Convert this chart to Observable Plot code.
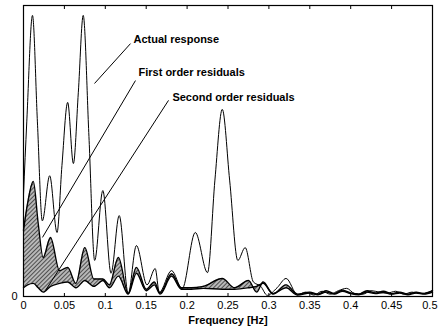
<!DOCTYPE html>
<html>
<head>
<meta charset="utf-8">
<script src="https://cdn.jsdelivr.net/npm/d3@7"></script>
<script src="https://cdn.jsdelivr.net/npm/@observablehq/plot@0.6"></script>
<style>
  body { margin: 0; background: #fff; }
  #chart svg { display: block; font-family: "Liberation Sans", Arial, sans-serif; }
</style>
</head>
<body>
<div id="chart"></div>
<script>
// ---- data ----
const actualFreq = [0, 0.004, 0.011, 0.017, 0.023, 0.032, 0.041, 0.047, 0.054, 0.061, 0.067, 0.073, 0.080, 0.087, 0.097, 0.107, 0.117, 0.128, 0.138, 0.151, 0.161, 0.166, 0.181, 0.194, 0.210, 0.225, 0.234, 0.243, 0.252, 0.262, 0.271, 0.281, 0.290, 0.298, 0.310, 0.321, 0.335, 0.345, 0.355, 0.365, 0.375, 0.385, 0.395, 0.405, 0.415, 0.425, 0.435, 0.445, 0.455, 0.465, 0.475, 0.485, 0.495, 0.500];
const actualVal  = [0.35, 0.60, 0.966, 0.60, 0.26, 0.415, 0.22, 0.45, 0.667, 0.457, 0.70, 0.966, 0.55, 0.124, 0.364, 0.08, 0.278, 0.01, 0.175, 0.04, 0.096, 0.014, 0.089, 0.027, 0.22, 0.082, 0.40, 0.643, 0.40, 0.124, 0.168, 0.05, 0.035, 0.004, 0.03, 0.062, 0.006, 0.015, 0.005, 0.018, 0.008, 0.02, 0.028, 0.01, 0.008, 0.02, 0.015, 0.012, 0.018, 0.008, 0.015, 0.01, 0.015, 0.02];

const resFreq   = [0, 0.005, 0.012, 0.018, 0.024, 0.033, 0.044, 0.054, 0.064, 0.075, 0.086, 0.097, 0.105, 0.116, 0.128, 0.138, 0.150, 0.160, 0.167, 0.181, 0.193, 0.205, 0.220, 0.243, 0.258, 0.275, 0.285, 0.293, 0.305, 0.321, 0.335, 0.350, 0.360, 0.370, 0.380, 0.390, 0.400, 0.410, 0.420, 0.430, 0.440, 0.450, 0.460, 0.470, 0.480, 0.490, 0.500];
const firstVal  = [0.227, 0.32, 0.395, 0.25, 0.134, 0.203, 0.089, 0.10, 0.045, 0.168, 0.06, 0.06, 0.04, 0.134, 0.01, 0.10, 0.025, 0.05, 0.012, 0.078, 0.03, 0.03, 0.035, 0.062, 0.03, 0.055, 0.015, 0.05, 0.008, 0.04, 0.008, 0.015, 0.008, 0.02, 0.01, 0.022, 0.012, 0.008, 0.02, 0.012, 0.018, 0.01, 0.015, 0.008, 0.015, 0.01, 0.02];
const secondVal = [0.03, 0.04, 0.045, 0.03, 0.015, 0.035, 0.045, 0.05, 0.03, 0.055, 0.035, 0.055, 0.03, 0.07, 0.008, 0.08, 0.02, 0.04, 0.008, 0.07, 0.025, 0.025, 0.028, 0.025, 0.025, 0.03, 0.035, 0.045, 0.01, 0.03, 0.005, 0.012, 0.006, 0.015, 0.008, 0.018, 0.01, 0.006, 0.015, 0.01, 0.014, 0.008, 0.012, 0.006, 0.012, 0.008, 0.015];

const xTicks      = [0, 0.05, 0.1, 0.15, 0.2, 0.25, 0.3, 0.35, 0.4, 0.45, 0.5];
const xTickLabels = ["0", "0.05", "0.1", "0.15", "0.2", "0.25", "0.3", "0.35", "0.4", "0.45", "0.5"];
const yTicks      = [0];
const yTickLabels = ["0"];
const xLabel = ["Frequency [Hz]"];

const noteText = ["Actual response", "First order residuals", "Second order residuals"];
const noteX    = [0.1345, 0.1406, 0.182];
const noteY    = [0.883, 0.770, 0.684];
const leadX1   = [0.1308, 0.1369, 0.1773];
const leadY1   = [0.869, 0.742, 0.674];
const leadX2   = [0.0868, 0.0232, 0.0269];
const leadY2   = [0.732, 0.203, 0.021];

// ---- tables built from the arrays ----
const actual = actualFreq.map((f, i) => ({f, v: actualVal[i]}));
const resid  = resFreq.map((f, i) => ({f, a: firstVal[i], b: secondVal[i]}));
const notes  = noteText.map((t, i) => ({t, x: noteX[i], y: noteY[i], x1: leadX1[i], y1: leadY1[i], x2: leadX2[i], y2: leadY2[i]}));
const fmtX = (d) => xTickLabels[xTicks.indexOf(d)] ?? "";

const chart = Plot.plot({
  width: 438,
  height: 330,
  marginLeft: 23,
  marginRight: 6,
  marginTop: 5,
  marginBottom: 34,
  style: {fontFamily: "'Liberation Sans', Arial, sans-serif", fontSize: "11px", color: "#000", background: "#fff"},
  x: {domain: [0, 0.5]},
  y: {domain: [0, 1]},
  marks: [
    Plot.areaY(resid, {x: "f", y1: "b", y2: "a", curve: "monotone-x", fill: "#888"}),
    Plot.line(resid, {x: "f", y: "b", curve: "monotone-x", stroke: "#000", strokeWidth: 1.4}),
    Plot.line(resid, {x: "f", y: "a", curve: "monotone-x", stroke: "#000", strokeWidth: 1.4}),
    Plot.line(actual, {x: "f", y: "v", curve: "monotone-x", stroke: "#000", strokeWidth: 1}),
    Plot.link(notes, {x1: "x1", y1: "y1", x2: "x2", y2: "y2", stroke: "#000", strokeWidth: 1}),
    Plot.text(notes, {x: "x", y: "y", text: "t", textAnchor: "start", fontSize: 11, fontWeight: "bold"}),
    Plot.frame({stroke: "#000", strokeWidth: 1.2}),
    Plot.axisX({anchor: "bottom", ticks: xTicks, tickSize: -3, tickFormat: () => "", label: null}),
    Plot.axisX({anchor: "top", ticks: xTicks, tickSize: -3, tickFormat: () => "", label: null}),
    Plot.axisX({anchor: "bottom", ticks: xTicks.slice(0, -1), tickSize: 0, tickPadding: 5, fontSize: 11,
                tickFormat: fmtX, label: null}),
    Plot.axisX({anchor: "bottom", ticks: xTicks.slice(-1), tickSize: 0, tickPadding: 5, fontSize: 11,
                textAnchor: "end", dx: 5, tickFormat: fmtX, label: null}),
    Plot.axisY({ticks: yTicks, tickSize: 0, tickPadding: 6, fontSize: 11,
                tickFormat: (d) => yTickLabels[yTicks.indexOf(d)] ?? "", label: null}),
    Plot.text(xLabel, {frameAnchor: "bottom", dy: 27, text: (d) => d, fontSize: 11, fontWeight: "bold"})
  ]
});

// hatched fill for the shaded region between residual curves
const ns = "http://www.w3.org/2000/svg";
const defs = document.createElementNS(ns, "defs");
const pat = document.createElementNS(ns, "pattern");
pat.setAttribute("id", "hatch");
pat.setAttribute("patternUnits", "userSpaceOnUse");
pat.setAttribute("width", "3");
pat.setAttribute("height", "3");
pat.setAttribute("patternTransform", "rotate(45)");
const bg = document.createElementNS(ns, "rect");
bg.setAttribute("width", "3"); bg.setAttribute("height", "3"); bg.setAttribute("fill", "#b8b8b8");
const ln = document.createElementNS(ns, "line");
ln.setAttribute("x1", "0"); ln.setAttribute("y1", "0"); ln.setAttribute("x2", "0"); ln.setAttribute("y2", "3");
ln.setAttribute("stroke", "#222"); ln.setAttribute("stroke-width", "1.4");
pat.appendChild(bg); pat.appendChild(ln); defs.appendChild(pat);
chart.insertBefore(defs, chart.firstChild);
const areaG = chart.querySelector('g[aria-label="area"]');
if (areaG) {
  areaG.setAttribute("fill", "url(#hatch)");
  areaG.querySelectorAll("path").forEach((p) => p.setAttribute("fill", "url(#hatch)"));
}

document.getElementById("chart").appendChild(chart);
</script>
</body>
</html>
